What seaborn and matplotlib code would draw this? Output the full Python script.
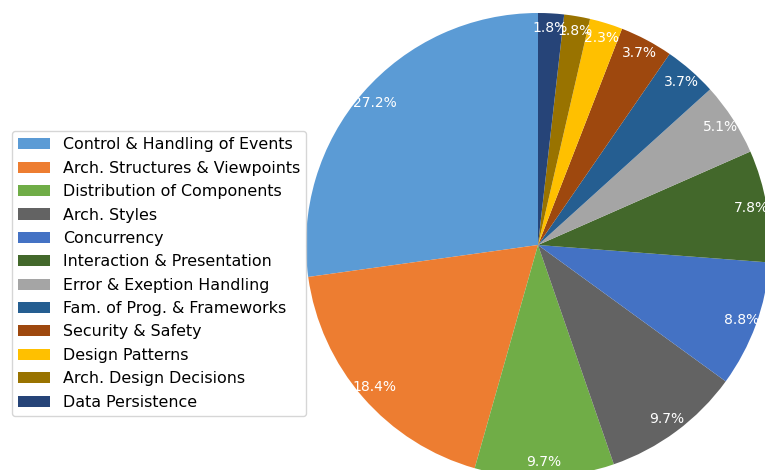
import matplotlib
matplotlib.use("Agg")
import matplotlib.pyplot as plt
import seaborn as sns

sns.set_theme(style="white")
plt.rcParams['font.family'] = ['DejaVu Sans']

categories = [
    "Control & Handling of Events",
    "Arch. Structures & Viewpoints",
    "Distribution of Components",
    "Arch. Styles",
    "Concurrency",
    "Interaction & Presentation",
    "Error & Exeption Handling",
    "Fam. of Prog. & Frameworks",
    "Security & Safety",
    "Design Patterns",
    "Arch. Design Decisions",
    "Data Persistence",
]
shares = [27.2, 18.4, 9.7, 9.7, 8.8, 7.8, 5.1, 3.7, 3.7, 2.3, 1.8, 1.8]
colors = ["#5B9BD5", "#ED7D31", "#70AD47", "#636363", "#4472C4", "#43682B",
          "#A5A5A5", "#255E91", "#9E480E", "#FFC000", "#997300", "#264478"]

fig = plt.figure(figsize=(7.65, 4.70), dpi=100)
# pie axes: centred at (538, 245) px, radius 232 px
ax = fig.add_axes([306 / 765, (470 - 477) / 470, 464 / 765, 464 / 470])
wedges, texts, autotexts = ax.pie(
    shares, colors=colors, startangle=90, counterclock=True,
    autopct="%1.1f%%", pctdistance=0.935,
    wedgeprops=dict(linewidth=0, edgecolor="none"),
    textprops=dict(color="white", fontsize=10),
)
ax.set_xlim(-1, 1)
ax.set_ylim(-1, 1)
ax.set_aspect("equal")
ax.axis("off")

leg = fig.legend(wedges, categories, loc="upper left",
                 bbox_to_anchor=(12 / 765, 1 - 131 / 470),
                 fontsize=11.4, frameon=True, borderaxespad=0,
                 handlelength=2.0, labelspacing=0.53, labelcolor="black")
leg.get_frame().set_edgecolor("#cccccc")

fig.savefig("out.png", dpi=100)
